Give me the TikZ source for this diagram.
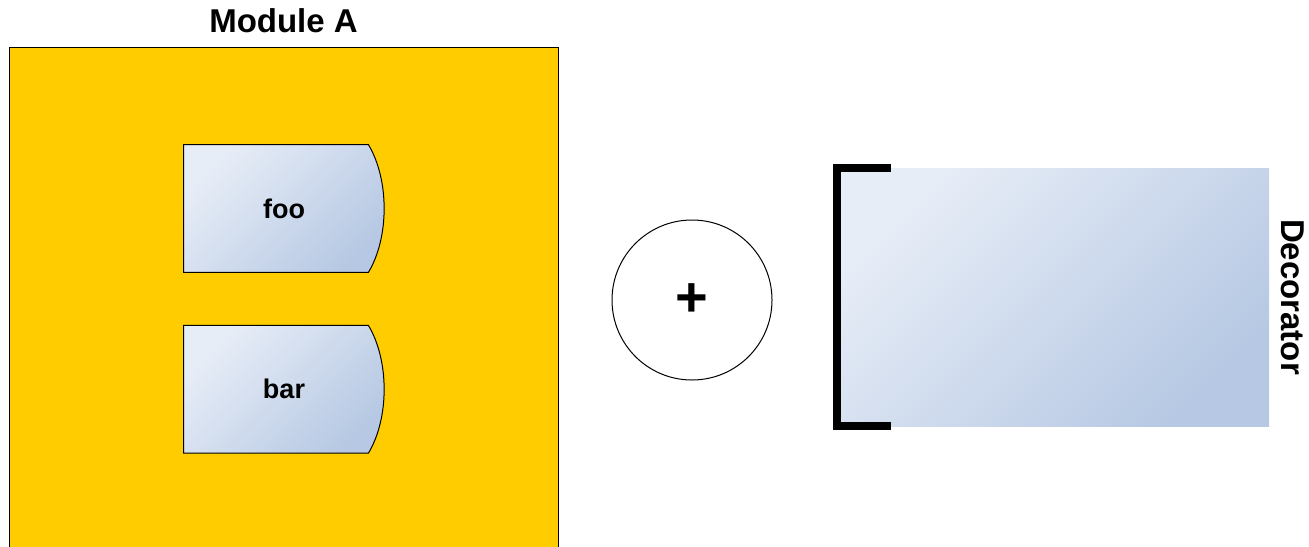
\documentclass[tikz,border=0pt]{standalone}
\usepackage{fontspec}
\setmainfont{Liberation Sans}
\usetikzlibrary{positioning}

\definecolor{moduleyellow}{RGB}{255,204,0}
\definecolor{boxlight}{RGB}{231,237,247}
\definecolor{boxdark}{RGB}{182,200,227}

\begin{document}
\begin{tikzpicture}[
    x=0.5pt, y=-0.5pt,
    module/.style={draw=black, line width=0.5pt, fill=moduleyellow, inner sep=0pt, minimum width=274.5pt, minimum height=251.5pt},
    slot/.style={inner sep=0pt, minimum width=100pt, minimum height=63.5pt},
    gradfill/.style={top color=boxlight, bottom color=boxdark, shading angle=45},
    title/.style={inner sep=0pt, font=\fontsize{16.5}{19}\selectfont\bfseries},
    caption/.style={inner sep=0pt, font=\fontsize{13.5}{16}\selectfont\bfseries}
  ]
  \useasboundingbox (0,0) rectangle (1309,546);

  % module with its two members
  \node[module] (modA) at (283.5,298.5) {};
  \node[title, above=6.5pt of modA] (modtitle) {Module A};
  \node[slot] (foo) at (284,208.5) {};
  \node[slot, below=26.5pt of foo] (bar) {};
  \foreach \s in {foo,bar}
    \shadedraw[gradfill, line width=0.5pt] (\s.north west) -- ([xshift=-8pt]\s.north east)
      .. controls +(10.5pt,-17.5pt) and +(10.5pt,17.5pt) .. ([xshift=-8pt]\s.south east)
      -- (\s.south west) -- cycle;
  \node[caption] (footext) at (foo) {foo};
  \node[caption] (bartext) at (bar) {bar};

  % plus sign
  \node[draw, circle, line width=0.5pt, inner sep=0pt, minimum size=80pt,
        font=\fontsize{28}{30}\selectfont\bfseries] (join) at (692,300) {+};

  % decorator
  \node[gradfill, inner sep=0pt, minimum width=214pt, minimum height=129pt] (dec) at (1055,297) {};
  \draw[line width=4pt, line join=miter] ([xshift=25pt]dec.north west) -- ([xshift=-2pt]dec.north west)
    -- ([xshift=-2pt]dec.south west) -- ([xshift=25pt]dec.south west);
  \node[title, rotate=-90, right=5.5pt of dec, anchor=south] (declabel) {Decorator};
\end{tikzpicture}
\end{document}
